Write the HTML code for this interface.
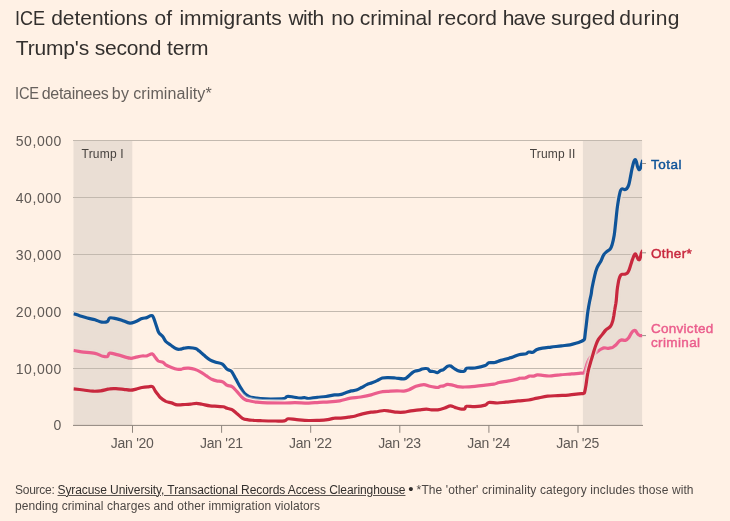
<!DOCTYPE html>
<html lang="en"><head><meta charset="utf-8"><title>ICE detentions</title>
<style>
html,body{margin:0;padding:0}
body{width:730px;height:521px;background:#FFF1E5;position:relative;overflow:hidden;font-family:"Liberation Sans",sans-serif;}
.t{position:absolute;white-space:nowrap;margin:0}
.title{left:15px;top:3px;font-size:21px;line-height:29.6px;color:#33302E;letter-spacing:-0.04px}
.sq{display:inline-block;transform-origin:0 50%}
.sub{left:15px;top:84px;font-size:16px;line-height:20px;color:#66605C;letter-spacing:-0.17px}
.yl{width:61.9px;left:0;text-align:right;font-size:14px;line-height:20px;color:#5F5955;letter-spacing:0.55px}
.xl{width:80px;text-align:center;font-size:14px;line-height:20px;color:#5F5955;letter-spacing:-0.28px}
.ann{font-size:12px;line-height:14px;color:#47423F;letter-spacing:0.19px}
.lab{font-size:13.5px;line-height:15px;-webkit-text-stroke:0.45px currentColor}
.foot{left:15px;top:481.8px;font-size:12px;line-height:16.5px;color:#4D4845;white-space:normal;width:700px}
.foot u{color:#33302E;text-decoration-thickness:1px;text-underline-offset:0.5px;text-decoration-color:#5C5652}
</style></head><body>
<svg width="730" height="521" viewBox="0 0 730 521" style="position:absolute;left:0;top:0">
<rect x="73.5" y="140" width="58.8" height="285.3" fill="#EADED4"/>
<rect x="582.9" y="140" width="59.2" height="285.3" fill="#EADED4"/>
<line x1="73" x2="642" y1="140.5" y2="140.5" stroke="#C3B9AF" stroke-width="1"/>
<line x1="73" x2="642" y1="197.5" y2="197.5" stroke="#C3B9AF" stroke-width="1"/>
<line x1="73" x2="642" y1="254.5" y2="254.5" stroke="#C3B9AF" stroke-width="1"/>
<line x1="73" x2="642" y1="311.5" y2="311.5" stroke="#C3B9AF" stroke-width="1"/>
<line x1="73" x2="642" y1="368.5" y2="368.5" stroke="#C3B9AF" stroke-width="1"/>
<line x1="73" x2="643" y1="425.4" y2="425.4" stroke="#8F867E" stroke-width="1"/>
<line x1="132.5" x2="132.5" y1="425.4" y2="432.8" stroke="#8F867E" stroke-width="1"/>
<line x1="221.6" x2="221.6" y1="425.4" y2="432.8" stroke="#8F867E" stroke-width="1"/>
<line x1="310.7" x2="310.7" y1="425.4" y2="432.8" stroke="#8F867E" stroke-width="1"/>
<line x1="399.8" x2="399.8" y1="425.4" y2="432.8" stroke="#8F867E" stroke-width="1"/>
<line x1="488.9" x2="488.9" y1="425.4" y2="432.8" stroke="#8F867E" stroke-width="1"/>
<line x1="578.0" x2="578.0" y1="425.4" y2="432.8" stroke="#8F867E" stroke-width="1"/>
<defs><clipPath id="cb"><rect x="73.5" y="130" width="58.8" height="300"/><rect x="582.9" y="130" width="59.2" height="300"/></clipPath><clipPath id="co"><rect x="0" y="130" width="73.5" height="300"/><rect x="132.3" y="130" width="450.6" height="300"/></clipPath><clipPath id="cl"><rect x="73.4" y="130" width="568.7" height="300"/></clipPath></defs>
<defs><path id="lb" d="M73.5,313.7 C74.5,314.0 77.3,315.0 79.6,315.7 C81.9,316.4 84.7,317.3 87.3,318.0 C89.9,318.7 92.6,319.1 95.0,319.8 C97.4,320.5 99.6,321.8 101.7,322.1 C103.8,322.4 106.1,322.2 107.4,321.5 C108.7,320.8 108.3,318.4 109.7,317.9 C111.1,317.4 114.0,318.2 116.0,318.6 C118.0,319.0 119.5,319.4 121.8,320.2 C124.1,321.0 127.7,322.9 129.9,323.2 C132.2,323.4 133.3,322.5 135.3,321.7 C137.3,320.9 140.1,319.3 142.0,318.6 C143.9,317.9 145.1,318.1 146.8,317.6 C148.5,317.1 150.8,314.8 152.2,315.7 C153.6,316.6 154.4,320.3 155.4,323.0 C156.4,325.7 157.5,329.8 158.3,331.7 C159.1,333.6 159.4,333.4 160.2,334.2 C161.0,335.0 162.0,335.5 162.9,336.7 C163.8,337.9 164.5,340.1 165.8,341.5 C167.1,342.9 168.8,343.8 170.6,345.0 C172.3,346.2 174.7,348.1 176.3,348.8 C177.9,349.5 178.9,349.3 180.2,349.2 C181.5,349.1 182.6,348.4 184.0,348.2 C185.4,347.9 186.9,347.6 188.8,347.7 C190.7,347.8 193.8,348.0 195.5,348.6 C197.2,349.2 197.9,350.0 199.3,351.1 C200.7,352.2 202.3,353.9 204.1,355.3 C205.9,356.8 208.0,358.7 209.9,359.8 C211.8,360.9 213.6,361.5 215.7,362.2 C217.8,362.9 220.5,363.0 222.4,364.2 C224.3,365.4 225.7,368.1 227.2,369.3 C228.7,370.5 230.0,369.7 231.4,371.3 C232.8,372.9 234.3,376.2 235.8,378.9 C237.3,381.6 239.2,385.2 240.6,387.6 C242.0,390.0 243.1,391.8 244.5,393.3 C245.9,394.8 247.5,395.8 249.3,396.6 C251.1,397.4 253.3,397.5 255.2,397.9 C257.0,398.2 257.8,398.5 260.4,398.7 C263.0,398.9 266.8,399.1 270.7,399.1 C274.6,399.1 281.0,399.1 283.7,398.7 C286.4,398.3 285.5,396.8 287.1,396.5 C288.7,396.2 291.0,396.7 293.2,397.0 C295.4,397.3 298.2,398.1 300.1,398.2 C302.0,398.3 303.0,397.6 304.4,397.7 C305.8,397.8 306.5,398.6 308.7,398.5 C310.9,398.4 314.5,397.6 317.4,397.3 C320.3,397.0 323.1,396.9 326.0,396.5 C328.9,396.1 332.3,395.2 334.6,394.9 C336.9,394.6 338.2,395.0 340.0,394.7 C341.8,394.4 343.3,393.6 345.2,393.0 C347.1,392.4 349.3,391.4 351.2,390.9 C353.1,390.4 354.7,390.7 356.4,390.1 C358.1,389.5 359.9,388.4 361.6,387.5 C363.3,386.6 365.1,385.4 366.8,384.6 C368.5,383.8 370.3,383.5 372.0,382.8 C373.7,382.1 375.4,381.4 377.1,380.6 C378.8,379.8 380.4,378.5 382.3,378.0 C384.2,377.5 386.2,377.6 388.4,377.6 C390.6,377.6 392.7,377.8 395.3,378.0 C397.9,378.2 401.7,379.2 403.9,378.9 C406.1,378.6 406.9,377.4 408.3,376.4 C409.7,375.4 410.9,373.8 412.1,372.9 C413.3,372.0 414.2,371.4 415.4,371.0 C416.6,370.6 418.1,370.6 419.2,370.3 C420.3,370.0 421.0,369.3 422.0,369.0 C423.0,368.7 424.3,368.5 425.3,368.5 C426.3,368.5 427.3,368.4 428.0,368.8 C428.7,369.2 429.0,370.6 429.7,371.0 C430.4,371.4 431.6,371.3 432.4,371.4 C433.2,371.5 433.8,371.5 434.6,371.7 C435.4,371.9 436.3,372.9 437.3,372.7 C438.3,372.5 439.6,371.0 440.6,370.5 C441.6,370.0 442.4,370.3 443.5,369.6 C444.6,368.9 446.2,367.0 447.3,366.4 C448.4,365.8 449.2,365.5 450.4,365.9 C451.5,366.2 452.7,367.6 454.2,368.5 C455.7,369.4 457.7,370.7 459.4,371.1 C461.1,371.5 463.3,371.6 464.5,371.1 C465.7,370.6 464.9,368.7 466.6,368.2 C468.3,367.7 471.8,368.4 474.9,368.0 C478.0,367.6 483.0,366.5 485.3,365.6 C487.6,364.7 487.1,363.3 488.7,362.8 C490.3,362.3 492.8,362.9 494.8,362.5 C496.8,362.1 498.1,361.2 500.8,360.4 C503.5,359.6 508.2,358.6 511.2,357.6 C514.2,356.7 516.4,355.4 518.9,354.7 C521.4,354.0 524.4,354.1 526.0,353.7 C527.6,353.2 527.4,352.2 528.6,352.0 C529.8,351.8 531.7,352.7 533.0,352.3 C534.3,351.9 534.8,350.4 536.4,349.7 C538.0,349.0 540.0,348.6 542.5,348.2 C545.0,347.8 547.9,347.5 551.1,347.1 C554.3,346.7 558.4,346.3 561.5,345.9 C564.6,345.5 567.6,345.2 570.0,344.8 C572.4,344.4 574.0,343.9 575.8,343.3 C577.6,342.8 579.6,342.1 580.9,341.5 C582.2,340.9 583.2,340.5 583.8,340.0 C584.4,339.5 584.3,340.2 584.6,338.6 C584.9,337.0 585.2,333.2 585.6,330.3 C586.0,327.4 586.3,324.3 586.7,321.1 C587.1,317.9 587.4,314.6 587.9,311.3 C588.4,308.0 589.0,304.5 589.6,301.5 C590.2,298.5 590.9,295.8 591.3,293.5 C591.7,291.2 591.5,290.7 592.1,287.7 C592.7,284.7 593.9,279.0 594.7,275.6 C595.5,272.2 596.1,270.0 597.1,267.6 C598.1,265.2 599.6,263.6 600.7,261.5 C601.8,259.4 602.6,256.7 603.5,255.1 C604.4,253.5 605.1,253.1 606.2,252.1 C607.3,251.1 609.2,250.3 610.2,249.0 C611.2,247.7 611.5,246.7 612.2,244.4 C612.9,242.1 613.6,238.8 614.2,235.3 C614.8,231.8 615.1,227.6 615.6,223.2 C616.1,218.8 616.6,213.2 617.1,209.1 C617.6,205.0 618.3,200.9 618.7,198.5 C619.1,196.1 619.2,195.9 619.5,194.6 C619.8,193.2 620.1,191.4 620.6,190.4 C621.1,189.4 621.5,188.9 622.2,188.8 C622.9,188.7 624.0,189.7 624.8,189.6 C625.6,189.5 626.2,189.2 626.9,188.5 C627.5,187.8 628.2,186.7 628.7,185.1 C629.2,183.5 629.6,181.3 630.1,178.8 C630.6,176.3 631.2,172.9 631.7,170.3 C632.2,167.8 632.9,165.1 633.3,163.5 C633.7,161.9 633.9,161.2 634.3,160.6 C634.6,160.0 635.0,159.6 635.4,159.8 C635.8,160.0 636.0,160.8 636.4,161.9 C636.8,163.0 637.1,165.3 637.5,166.6 C637.9,167.9 638.5,169.1 638.9,169.5 C639.3,169.9 639.7,169.5 640.1,168.8 C640.5,168.2 640.9,166.5 641.2,165.6 C641.5,164.7 641.5,164.4 641.8,163.5 C642.1,162.6 642.6,160.6 642.8,160.0" fill="none" stroke-linejoin="round" stroke-linecap="butt"/></defs>
<g clip-path="url(#co)" stroke="#FFF1E5"><use href="#lb" stroke-width="7.6" stroke-opacity="0.5"/><use href="#lb" stroke-width="5.2"/></g>
<g clip-path="url(#cb)" stroke="#EADED4"><use href="#lb" stroke-width="7.6" stroke-opacity="0.5"/><use href="#lb" stroke-width="5.2"/></g>
<use href="#lb" stroke="#0F5499" stroke-width="3.2" clip-path="url(#cl)"/>
<defs><path id="lp" d="M73.5,350.4 C74.8,350.6 77.9,351.3 81.5,351.8 C85.1,352.3 91.5,352.7 95.0,353.4 C98.5,354.1 100.5,355.7 102.6,356.2 C104.7,356.7 106.2,357.1 107.4,356.6 C108.6,356.1 107.9,353.5 109.7,353.2 C111.5,352.9 114.6,354.1 118.0,354.9 C121.4,355.7 127.0,357.8 129.9,358.2 C132.8,358.6 133.3,357.8 135.3,357.4 C137.3,357.0 140.1,356.2 142.0,356.0 C143.9,355.8 145.1,356.2 146.8,355.9 C148.5,355.5 150.8,353.6 152.2,353.9 C153.6,354.2 154.4,356.4 155.4,357.6 C156.4,358.8 157.1,360.2 158.3,361.0 C159.6,361.8 161.7,361.6 162.9,362.2 C164.2,362.8 164.4,364.0 165.8,364.9 C167.2,365.8 169.6,366.7 171.5,367.4 C173.4,368.1 175.7,368.9 177.3,369.2 C178.9,369.5 180.0,369.4 181.1,369.3 C182.2,369.2 182.7,368.6 184.0,368.4 C185.3,368.2 187.1,368.0 188.8,368.2 C190.6,368.4 192.6,368.7 194.5,369.3 C196.4,369.9 198.4,370.7 200.3,371.8 C202.2,372.9 204.2,374.4 206.1,375.7 C208.0,376.9 210.1,378.4 211.8,379.3 C213.6,380.2 214.8,380.5 216.6,380.9 C218.4,381.3 220.6,381.1 222.4,381.8 C224.2,382.5 225.6,384.5 227.2,385.3 C228.8,386.1 230.4,385.6 232.0,386.6 C233.6,387.6 235.2,389.7 236.8,391.4 C238.4,393.1 240.2,395.4 241.6,396.8 C243.0,398.2 244.0,399.0 245.4,399.7 C246.8,400.4 248.3,400.6 250.2,401.0 C252.1,401.4 254.0,401.9 256.9,402.2 C259.8,402.5 262.7,402.8 267.3,402.9 C271.9,403.0 279.9,403.0 284.5,403.0 C289.1,403.0 290.9,402.7 294.9,402.7 C298.9,402.7 304.7,403.3 308.7,403.2 C312.7,403.1 315.7,402.5 319.1,402.3 C322.6,402.1 325.9,402.1 329.4,401.8 C332.8,401.6 336.3,401.4 339.8,400.8 C343.3,400.2 346.9,398.8 350.4,398.2 C353.9,397.6 357.2,397.6 360.7,397.0 C364.1,396.4 367.9,395.7 371.1,394.9 C374.3,394.1 376.8,392.8 379.7,392.2 C382.6,391.6 385.5,391.5 388.4,391.3 C391.3,391.1 394.4,390.8 397.0,390.8 C399.6,390.8 401.9,391.3 403.9,391.1 C405.9,390.9 407.1,390.5 409.1,389.7 C411.1,388.9 413.6,387.1 416.0,386.3 C418.4,385.5 421.5,384.6 423.8,384.6 C426.1,384.6 427.6,385.8 429.8,386.3 C432.1,386.8 435.5,387.5 437.3,387.5 C439.1,387.5 439.3,386.6 440.4,386.3 C441.5,386.0 442.6,386.2 443.8,385.9 C445.0,385.6 446.0,384.6 447.3,384.4 C448.6,384.2 449.9,384.5 451.6,384.9 C453.3,385.3 455.5,386.2 457.6,386.6 C459.8,387.0 461.6,387.1 464.5,387.0 C467.4,386.9 471.4,386.6 474.9,386.3 C478.4,386.0 482.1,385.5 485.3,385.1 C488.5,384.8 491.6,384.6 493.9,384.2 C496.2,383.8 496.8,383.0 499.1,382.5 C501.4,382.0 504.8,381.6 507.7,381.1 C510.6,380.6 514.4,379.9 516.4,379.4 C518.4,378.9 518.5,378.4 520.0,378.2 C521.5,377.9 523.6,378.2 525.2,377.9 C526.8,377.5 528.1,376.4 529.5,376.1 C530.9,375.8 532.5,376.3 533.8,376.1 C535.1,375.9 535.8,375.0 537.3,374.9 C538.8,374.8 540.5,375.1 542.5,375.3 C544.5,375.5 546.5,376.1 549.4,376.0 C552.3,375.9 556.0,375.2 559.7,374.9 C563.4,374.5 568.3,374.2 571.8,373.9 C575.3,373.6 578.5,373.4 580.5,373.2 C582.5,373.0 582.9,373.6 583.8,372.9 C584.6,372.2 585.0,370.5 585.6,368.8 C586.2,367.0 586.8,364.3 587.5,362.5 C588.2,360.7 588.9,359.3 589.8,358.0 C590.7,356.7 591.9,355.7 593.0,354.8 C594.1,353.9 595.3,353.3 596.2,352.6 C597.1,351.9 597.5,351.4 598.4,350.8 C599.3,350.2 600.6,349.4 601.5,348.9 C602.4,348.4 603.0,347.9 604.0,347.8 C605.0,347.7 606.4,348.3 607.5,348.3 C608.6,348.3 609.6,348.0 610.5,347.9 C611.4,347.8 612.0,347.7 612.7,347.4 C613.4,347.1 614.0,346.4 614.5,346.0 C615.0,345.6 615.0,345.8 615.9,344.9 C616.8,344.0 618.6,341.5 619.6,340.7 C620.6,339.9 620.7,339.9 621.7,339.8 C622.7,339.8 624.3,340.7 625.4,340.4 C626.5,340.1 627.5,339.2 628.5,338.0 C629.5,336.8 630.4,334.5 631.2,333.3 C632.0,332.1 632.6,331.2 633.3,330.8 C634.0,330.4 634.7,330.1 635.4,330.6 C636.1,331.1 636.8,333.0 637.5,333.8 C638.2,334.6 638.9,335.1 639.6,335.4 C640.4,335.7 641.4,335.6 642.0,335.6 C642.6,335.7 642.8,335.7 643.0,335.7" fill="none" stroke-linejoin="round" stroke-linecap="butt"/></defs>
<g clip-path="url(#co)" stroke="#FFF1E5"><use href="#lp" stroke-width="7.6" stroke-opacity="0.5"/><use href="#lp" stroke-width="5.2"/></g>
<g clip-path="url(#cb)" stroke="#EADED4"><use href="#lp" stroke-width="7.6" stroke-opacity="0.5"/><use href="#lp" stroke-width="5.2"/></g>
<use href="#lp" stroke="#EB5E8D" stroke-width="3.2" clip-path="url(#cl)"/>
<defs><path id="lr" d="M73.5,388.8 C75.2,389.0 80.2,389.6 83.4,390.0 C86.7,390.4 90.1,391.1 93.0,391.2 C95.9,391.3 97.9,391.2 100.7,390.8 C103.5,390.4 107.2,389.2 109.7,388.9 C112.2,388.5 113.7,388.6 116.0,388.7 C118.3,388.8 121.3,389.1 123.7,389.3 C126.1,389.6 128.4,390.2 130.5,390.2 C132.6,390.2 134.3,389.6 136.2,389.1 C138.1,388.7 140.1,387.9 142.0,387.5 C143.9,387.1 145.9,386.9 147.7,386.8 C149.4,386.7 151.2,385.9 152.5,386.6 C153.8,387.3 154.4,389.8 155.4,391.2 C156.4,392.6 157.5,394.0 158.3,395.0 C159.1,396.0 158.8,396.1 160.0,397.2 C161.2,398.3 163.9,400.4 165.8,401.4 C167.7,402.3 169.6,402.3 171.5,402.9 C173.4,403.5 175.1,404.6 177.3,404.9 C179.6,405.2 182.8,404.6 185.0,404.5 C187.2,404.4 188.8,404.3 190.7,404.1 C192.6,403.9 194.6,403.3 196.5,403.3 C198.4,403.3 200.0,403.9 202.2,404.3 C204.4,404.7 207.3,405.5 209.9,405.8 C212.5,406.1 215.4,406.2 217.6,406.4 C219.8,406.6 221.7,406.5 223.3,406.8 C224.9,407.1 225.8,407.8 227.2,408.3 C228.6,408.8 230.4,408.8 232.0,409.7 C233.6,410.6 235.1,412.1 236.8,413.5 C238.6,414.9 240.6,417.2 242.5,418.3 C244.4,419.4 246.4,419.5 248.3,419.8 C250.2,420.1 252.0,420.2 254.0,420.4 C256.0,420.5 257.3,420.6 260.4,420.7 C263.5,420.8 268.5,421.0 272.5,421.0 C276.5,421.0 281.9,421.2 284.5,420.8 C287.1,420.4 286.0,419.0 288.0,418.8 C290.0,418.6 293.2,419.3 296.6,419.6 C300.1,419.9 304.9,420.4 308.7,420.5 C312.4,420.6 315.9,420.4 319.1,420.3 C322.3,420.2 325.1,420.0 327.7,419.6 C330.3,419.2 332.6,418.4 334.6,418.2 C336.7,417.9 337.7,418.3 340.0,418.1 C342.3,417.9 346.0,417.6 348.6,417.2 C351.2,416.8 353.2,416.6 355.5,416.0 C357.8,415.4 359.9,414.5 362.5,413.9 C365.1,413.3 368.5,412.6 371.1,412.2 C373.7,411.8 375.9,411.8 378.0,411.5 C380.1,411.2 382.0,410.6 384.0,410.5 C386.0,410.4 387.9,410.9 390.1,411.2 C392.3,411.5 394.7,412.0 397.0,412.2 C399.3,412.4 401.6,412.4 403.9,412.2 C406.2,412.0 408.2,411.2 410.8,410.8 C413.4,410.4 416.8,410.1 419.4,409.8 C422.0,409.5 424.4,409.1 426.4,409.1 C428.4,409.1 429.6,409.7 431.5,409.8 C433.4,409.9 435.6,410.1 437.8,409.8 C440.0,409.5 442.6,408.7 444.7,408.0 C446.8,407.3 448.7,405.9 450.4,405.8 C452.1,405.7 453.4,406.9 455.0,407.4 C456.6,407.9 458.6,408.6 460.2,408.9 C461.8,409.1 463.4,409.3 464.5,408.9 C465.6,408.5 464.9,406.7 466.6,406.3 C468.3,405.9 471.8,406.9 474.9,406.7 C478.0,406.5 483.0,405.8 485.3,405.1 C487.6,404.4 486.7,402.9 488.7,402.5 C490.7,402.1 494.5,403.1 497.4,403.0 C500.3,402.9 502.8,402.5 506.0,402.2 C509.2,401.9 514.1,401.3 516.4,401.1 C518.7,400.9 518.0,401.0 520.0,400.8 C522.0,400.6 525.7,400.4 528.6,400.0 C531.5,399.6 534.1,398.7 537.3,398.1 C540.5,397.5 544.1,396.6 547.6,396.2 C551.1,395.8 554.5,395.8 558.0,395.6 C561.5,395.4 564.9,395.4 568.4,395.1 C571.9,394.8 576.2,394.2 578.7,393.9 C581.2,393.6 582.6,393.7 583.6,393.4 C584.6,393.1 584.2,393.6 584.6,392.2 C585.0,390.8 585.5,388.3 586.0,385.0 C586.5,381.7 587.1,376.2 587.9,372.5 C588.6,368.8 589.9,364.8 590.5,362.5 C591.1,360.2 591.2,360.4 591.7,358.6 C592.2,356.8 593.0,354.2 593.7,351.8 C594.4,349.4 595.3,346.6 596.1,344.5 C596.9,342.4 597.4,341.1 598.4,339.4 C599.4,337.7 601.2,336.0 602.4,334.4 C603.6,332.8 604.4,331.4 605.8,330.0 C607.1,328.6 609.4,327.8 610.5,326.3 C611.6,324.8 612.2,322.9 612.7,321.1 C613.2,319.4 613.4,317.7 613.8,315.8 C614.1,313.9 614.4,311.6 614.8,309.5 C615.1,307.4 615.6,304.8 615.9,303.2 C616.1,301.6 616.1,302.2 616.3,300.0 C616.5,297.8 616.9,292.3 617.2,289.8 C617.5,287.3 617.6,286.7 617.9,285.0 C618.2,283.3 618.5,281.3 618.9,279.7 C619.3,278.1 619.9,276.5 620.4,275.6 C620.9,274.7 621.4,274.5 622.1,274.3 C622.8,274.1 623.8,274.4 624.7,274.2 C625.6,274.0 626.6,273.9 627.3,273.2 C628.0,272.5 628.4,271.6 629.0,270.2 C629.6,268.8 630.1,266.8 630.7,265.0 C631.3,263.2 631.9,261.0 632.5,259.4 C633.1,257.8 633.7,256.0 634.2,255.1 C634.7,254.2 635.1,253.8 635.5,254.0 C635.9,254.2 636.4,255.6 636.8,256.4 C637.2,257.2 637.7,258.4 638.1,259.0 C638.5,259.6 639.0,260.0 639.4,259.7 C639.8,259.4 640.1,258.4 640.4,257.3 C640.7,256.2 641.0,254.1 641.3,253.2 C641.6,252.3 641.8,252.3 642.0,251.8 C642.2,251.3 642.7,250.3 642.8,250.0" fill="none" stroke-linejoin="round" stroke-linecap="butt"/></defs>
<g clip-path="url(#co)" stroke="#FFF1E5"><use href="#lr" stroke-width="7.6" stroke-opacity="0.5"/><use href="#lr" stroke-width="5.2"/></g>
<g clip-path="url(#cb)" stroke="#EADED4"><use href="#lr" stroke-width="7.6" stroke-opacity="0.5"/><use href="#lr" stroke-width="5.2"/></g>
<use href="#lr" stroke="#C8283E" stroke-width="3.2" clip-path="url(#cl)"/>
<line x1="642.1" x2="646" y1="163.5" y2="163.5" stroke="#999088" stroke-width="1"/>
<line x1="642.1" x2="646" y1="252.8" y2="252.8" stroke="#999088" stroke-width="1"/>
<line x1="642.1" x2="646" y1="335.6" y2="335.6" stroke="#999088" stroke-width="1"/>
</svg>
<div class="t title"><span class="sq" style="transform:scaleX(0.86);margin-right:-4.5px">ICE</span> detentions <span style="margin-left:1px">of</span> <span style="margin-left:1.7px">immigrants</span> <span style="margin-left:0.9px;letter-spacing:-0.54px">with</span> <span style="margin-left:1.8px">no</span> <span style="margin-left:-0.5px">criminal</span> record <span style="letter-spacing:-0.74px">have</span> surged <span style="margin-left:-1.5px;letter-spacing:0.36px">during</span><br><span style="letter-spacing:-0.17px;margin-left:0.8px">Trump's second term</span></div>
<div class="t sub"><span class="sq" style="transform:scaleX(0.915);margin-right:-2.1px">ICE</span> <span style="margin-left:-1.6px;letter-spacing:-0.3px">detainees</span> <span style="margin-left:-1.0px;letter-spacing:0.3px">by</span> <span style="margin-left:-0.3px;letter-spacing:0.1px">criminality*</span></div>
<div class="t yl" style="top:130.5px">50,000</div>
<div class="t yl" style="top:187.5px">40,000</div>
<div class="t yl" style="top:244.5px">30,000</div>
<div class="t yl" style="top:301.5px">20,000</div>
<div class="t yl" style="top:358.5px">10,000</div>
<div class="t yl" style="top:415.3px">0</div>
<div class="t xl" style="left:92.2px;top:433.3px">Jan '20</div>
<div class="t xl" style="left:181.3px;top:433.3px">Jan '21</div>
<div class="t xl" style="left:270.4px;top:433.3px">Jan '22</div>
<div class="t xl" style="left:359.5px;top:433.3px">Jan '23</div>
<div class="t xl" style="left:448.6px;top:433.3px">Jan '24</div>
<div class="t xl" style="left:537.7px;top:433.3px">Jan '25</div>
<div class="t ann" style="left:81.6px;top:147px">Trump I</div>
<div class="t ann" style="left:529.7px;top:147px">Trump II</div>
<div class="t lab" style="left:651px;top:156.8px;color:#0F5499;letter-spacing:0.52px">Total</div>
<div class="t lab" style="left:651px;top:245.5px;color:#C8283E;letter-spacing:0.35px">Other*</div>
<div class="t lab" style="left:651px;top:322.25px;color:#EB5E8D;line-height:13.5px;letter-spacing:0.27px">Convicted<br><span style="letter-spacing:0.36px">criminal</span></div>
<div class="t foot"><span style="letter-spacing:-0.27px">Source: </span><u style="letter-spacing:-0.085px">Syracuse University, Transactional Records Access Clearinghouse</u><span style="letter-spacing:0.107px"> <span style="font-size:15px;line-height:0;margin:0 -0.55px;color:#33302E;position:relative;top:0.6px">&bull;</span> *The 'other' criminality category includes those with</span><br><span style="letter-spacing:0.075px">pending criminal charges and other immigration violators</span></div>
</body></html>
